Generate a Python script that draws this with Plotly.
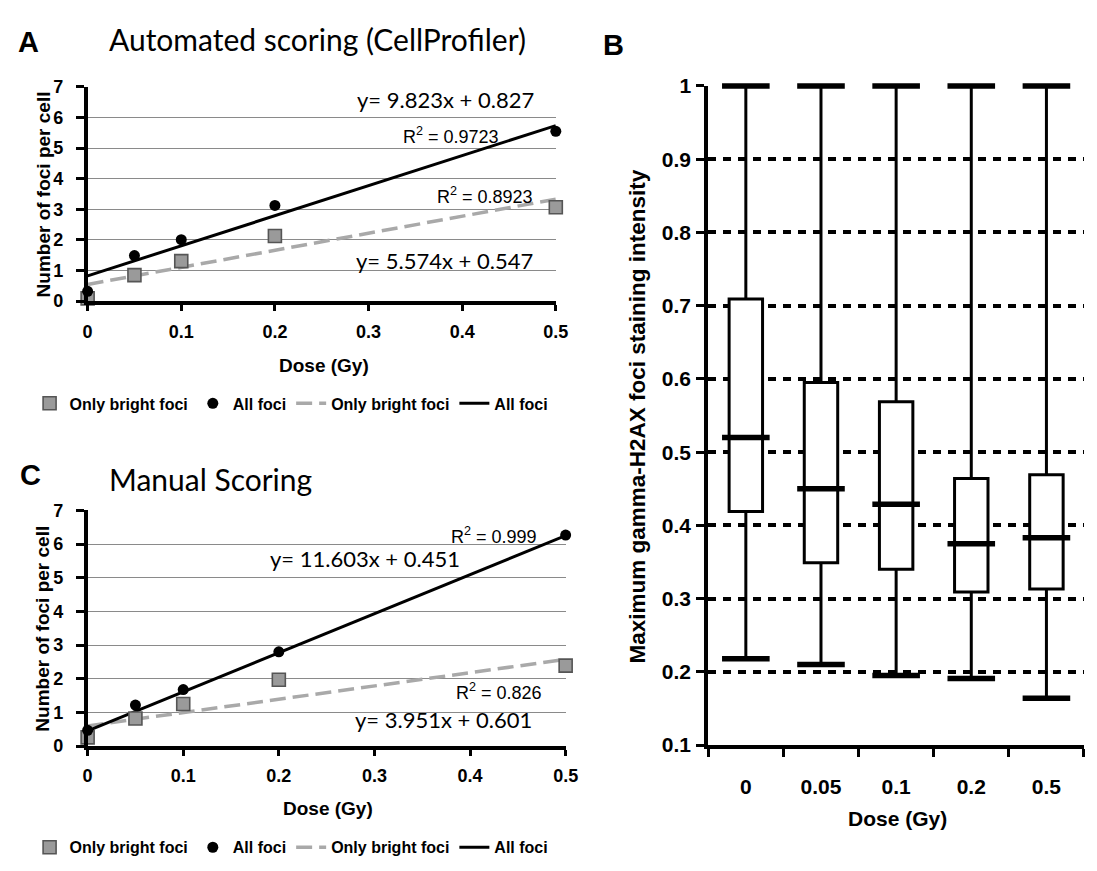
import plotly.graph_objects as go

# ---------------- data ----------------
doses = [0, 0.05, 0.1, 0.2, 0.5]

# Panel A: automated scoring (CellProfiler)
a_all = [0.32, 1.49, 2.01, 3.13, 5.55]
a_bright = [0.09, 0.85, 1.31, 2.13, 3.07]
a_fit_all = [9.823, 0.827]        # slope, intercept
a_fit_bright = [5.574, 0.547]
a_r2_all = "0.9723"
a_r2_bright = "0.8923"

# Panel C: manual scoring
c_all = [0.47, 1.22, 1.68, 2.80, 6.27]
c_bright = [0.26, 0.82, 1.25, 1.97, 2.39]
c_fit_all = [11.603, 0.451]
c_fit_bright = [3.951, 0.601]
c_r2_all = "0.999"
c_r2_bright = "0.826"

# Panel B: box plot of maximum gamma-H2AX foci staining intensity
b_doses = ["0", "0.05", "0.1", "0.2", "0.5"]
b_upper = [1.0, 1.0, 1.0, 1.0, 1.0]
b_q3 = [0.709, 0.595, 0.569, 0.464, 0.469]
b_median = [0.520, 0.450, 0.429, 0.375, 0.383]
b_q1 = [0.419, 0.349, 0.340, 0.309, 0.313]
b_lower = [0.218, 0.210, 0.195, 0.191, 0.164]

x_ticks = [0, 0.1, 0.2, 0.3, 0.4, 0.5]
y_ticks = [0, 1, 2, 3, 4, 5, 6, 7]
b_y_ticks = [0.1, 0.2, 0.3, 0.4, 0.5, 0.6, 0.7, 0.8, 0.9, 1.0]

# ---------------- style ----------------
W, H = 1097, 871
ARIAL = "Liberation Sans, Arial, sans-serif"
NARROW = "Liberation Sans Narrow, Liberation Sans, Arial, sans-serif"
CAL = "Lato, Carlito, Calibri, sans-serif"
GREY_LINE = "#a9a9a9"
GREY_SQ = "#9a9a9a"


def fx(p):
    return p / W


def fy(p):
    return 1 - p / H


def fit_line(fit, xs):
    return [fit[0] * v + fit[1] for v in xs]


fig = go.Figure()

line_x = [doses[0], doses[-1]]


def add_panel(xa, ya, leg, all_vals, bright_vals, fit_all, fit_bright):
    fig.add_trace(go.Scatter(
        x=line_x, y=fit_line(fit_bright, line_x), mode="lines",
        line=dict(color=GREY_LINE, width=3.5, dash="16px,7px"),
        name="Only bright foci", legendrank=3, xaxis=xa, yaxis=ya, legend=leg))
    fig.add_trace(go.Scatter(
        x=line_x, y=fit_line(fit_all, line_x), mode="lines",
        line=dict(color="black", width=3),
        name="All foci", legendrank=4, xaxis=xa, yaxis=ya, legend=leg))
    fig.add_trace(go.Scatter(
        x=doses, y=bright_vals, mode="markers", cliponaxis=False,
        marker=dict(symbol="square", size=13, color=GREY_SQ,
                    line=dict(color="#555555", width=1.6)),
        name="Only bright foci", legendrank=1, xaxis=xa, yaxis=ya, legend=leg))
    fig.add_trace(go.Scatter(
        x=doses, y=all_vals, mode="markers", cliponaxis=False,
        marker=dict(symbol="circle", size=11, color="black"),
        name="All foci", legendrank=2, xaxis=xa, yaxis=ya, legend=leg))


add_panel("x", "y", "legend", a_all, a_bright, a_fit_all, a_fit_bright)
add_panel("x2", "y2", "legend2", c_all, c_bright, c_fit_all, c_fit_bright)

# ---- panel B box plot ----
b_pos = list(range(len(b_doses)))
BOXW = 0.445
fig.add_trace(go.Box(
    x=b_pos, q1=b_q1, median=b_median, q3=b_q3,
    lowerfence=b_lower, upperfence=b_upper,
    width=BOXW, whiskerwidth=1, fillcolor="white",
    line=dict(color="black", width=3),
    boxpoints=False, showlegend=False, xaxis="x3", yaxis="y3"))
cap_px = 34
for vals in (b_median, b_lower, b_upper):
    fig.add_trace(go.Scatter(
        x=b_pos, y=vals, mode="markers", cliponaxis=False,
        marker=dict(symbol="line-ew", size=cap_px,
                    line=dict(color="black", width=5.5)),
        showlegend=False, hoverinfo="skip", xaxis="x3", yaxis="y3"))

# ---------------- axes ----------------
tick_font = dict(family=ARIAL, size=18, color="black", weight="bold")


def line_axis_x(domain, anchor):
    return dict(domain=domain, anchor=anchor, range=[0, 0.5],
                tickvals=x_ticks, ticktext=[("%g" % v) for v in x_ticks],
                ticks="outside", ticklen=6, tickwidth=3, tickcolor="black",
                showline=True, linecolor="black", linewidth=3.5,
                showgrid=False, zeroline=False, tickfont=tick_font,
                ticklabelstandoff=5, fixedrange=True)


def line_axis_y(domain, anchor):
    return dict(domain=domain, anchor=anchor, range=[0, 7],
                tickvals=y_ticks, ticks="outside", ticklen=8, tickwidth=3,
                tickcolor="black", showline=True, linecolor="black",
                linewidth=3.5, showgrid=True, gridcolor="#8a8a8a",
                gridwidth=1.3, zeroline=False, tickfont=tick_font,
                ticklabelstandoff=9, fixedrange=True)


b_tick_font = dict(family=ARIAL, size=21, color="black", weight="bold")

fig.update_layout(
    width=W, height=H, margin=dict(l=0, r=0, t=0, b=0),
    paper_bgcolor="white", plot_bgcolor="white",
    xaxis=line_axis_x([fx(84), fx(560)], "y"),
    yaxis=line_axis_y([fy(297), fy(77)], "x"),
    xaxis2=line_axis_x([fx(84), fx(570)], "y2"),
    yaxis2=line_axis_y([fy(754), fy(512)], "x2"),
    xaxis3=dict(domain=[fx(715), 1.0], anchor="y3", range=[-0.5, len(b_doses) - 0.5],
                tickvals=b_pos, ticktext=b_doses, ticks="",
                minor=dict(tickvals=[i - 0.5 for i in range(len(b_doses) + 1)],
                           ticks="outside", ticklen=8, tickwidth=3, tickcolor="black"),
                showline=True, linecolor="black", linewidth=4, showgrid=False,
                zeroline=False, ticklabelstandoff=20, tickfont=b_tick_font,
                fixedrange=True),
    yaxis3=dict(domain=[fy(753), fy(76)], anchor="x3", range=[0.1, 1.0],
                tickvals=b_y_ticks, ticktext=[("%g" % v) for v in b_y_ticks],
                ticks="outside", ticklen=8, tickwidth=3, tickcolor="black",
                showline=True, linecolor="black", linewidth=4,
                showgrid=True, gridcolor="black", gridwidth=3.5, griddash="8px,7px",
                zeroline=False, ticklabelstandoff=1, tickfont=b_tick_font,
                fixedrange=True),
    legend=dict(orientation="h", x=fx(25), xanchor="left", y=fy(402), yanchor="middle",
                font=dict(family=NARROW, size=16, color="black", weight="bold"),
                bgcolor="rgba(0,0,0,0)", itemwidth=30, traceorder="normal"),
    legend2=dict(orientation="h", x=fx(25), xanchor="left", y=fy(858), yanchor="middle",
                 font=dict(family=NARROW, size=16, color="black", weight="bold"),
                 bgcolor="rgba(0,0,0,0)", itemwidth=30, traceorder="normal"),
    showlegend=True,
)

# ---------------- annotations ----------------
ann = []


def text(x, y, s, size, family=ARIAL, weight="normal", xanchor="center",
         xref="paper", yref="paper", angle=0):
    ann.append(dict(x=x, y=y, xref=xref, yref=yref, text=s, showarrow=False,
                    xanchor=xanchor, yanchor="middle", textangle=angle,
                    font=dict(family=family, size=size, color="black", weight=weight)))


# panel letters
text(fx(24), fy(31), "A", 29, weight="bold")
text(fx(619), fy(34), "B", 29, weight="bold")
text(fx(26), fy(476), "C", 29, weight="bold")
# panel titles
text(fx(104), fy(28), "Automated scoring (CellProfiler)", 30, family=CAL, xanchor="left")
text(fx(104), fy(480), "Manual Scoring", 30, family=CAL, xanchor="left")
# axis titles
text(fx(39), fy(187), "Number of foci per cell", 19, weight="bold", angle=-90)
text(fx(324), fy(363), "Dose (Gy)", 19, weight="bold")
text(fx(38), fy(633), "Number of foci per cell", 19, weight="bold", angle=-90)
text(fx(328), fy(818), "Dose (Gy)", 19, weight="bold")
text(fx(643), fy(415), "Maximum gamma-H2AX foci staining intensity", 22.5, weight="bold", angle=-90)
text(fx(907), fy(828), "Dose (Gy)", 21, weight="bold")


def eq(fit):
    return "y= %.3fx + %.3f" % (fit[0], fit[1])


# panel A equations
text(0.479, 6.59, eq(a_fit_all), 22, family=CAL, xanchor="right", xref="x", yref="y")
text(0.441, 5.41, "R<sup>2</sup> = " + a_r2_all, 18, xanchor="right", xref="x", yref="y")
text(0.478, 3.44, "R<sup>2</sup> = " + a_r2_bright, 18, xanchor="right", xref="x", yref="y")
text(0.478, 1.34, eq(a_fit_bright), 22, family=CAL, xanchor="right", xref="x", yref="y")
# panel C equations
text(0.472, 6.27, "R<sup>2</sup> = " + c_r2_all, 18, xanchor="right", xref="x2", yref="y2")
text(0.392, 5.58, eq(c_fit_all), 22, family=CAL, xanchor="right", xref="x2", yref="y2")
text(0.477, 1.62, "R<sup>2</sup> = " + c_r2_bright, 18, xanchor="right", xref="x2", yref="y2")
text(0.467, 0.78, eq(c_fit_bright), 22, family=CAL, xanchor="right", xref="x2", yref="y2")

fig.update_layout(annotations=ann)

fig.write_html("out.html")
